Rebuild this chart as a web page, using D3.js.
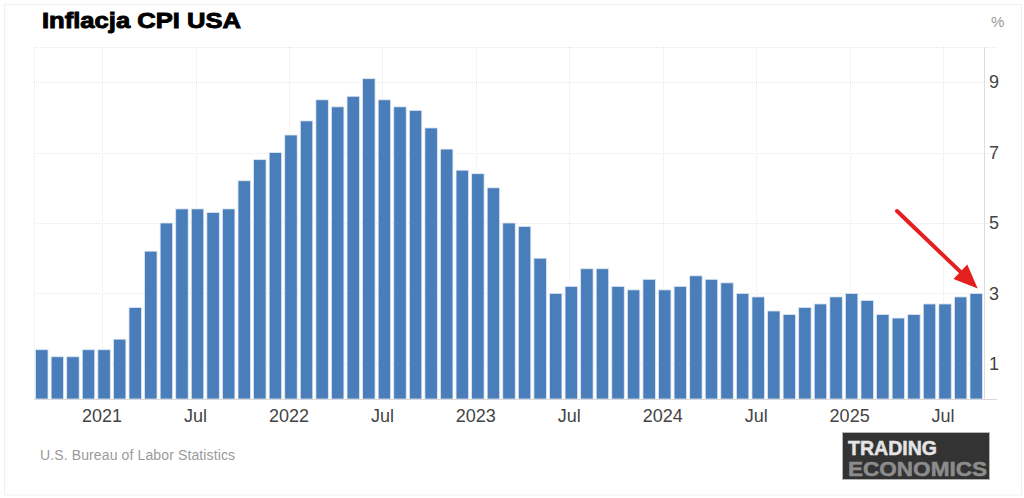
<!DOCTYPE html>
<html><head><meta charset="utf-8">
<script src="https://cdn.jsdelivr.net/npm/d3@7/dist/d3.min.js"></script>
<style>body{margin:0;background:#fff}svg{display:block}</style>
</head><body>
<script>
const months = ["2020-09","2020-10","2020-11","2020-12",
"2021-01","2021-02","2021-03","2021-04","2021-05","2021-06","2021-07","2021-08","2021-09","2021-10","2021-11","2021-12",
"2022-01","2022-02","2022-03","2022-04","2022-05","2022-06","2022-07","2022-08","2022-09","2022-10","2022-11","2022-12",
"2023-01","2023-02","2023-03","2023-04","2023-05","2023-06","2023-07","2023-08","2023-09","2023-10","2023-11","2023-12",
"2024-01","2024-02","2024-03","2024-04","2024-05","2024-06","2024-07","2024-08","2024-09","2024-10","2024-11","2024-12",
"2025-01","2025-02","2025-03","2025-04","2025-05","2025-06","2025-07","2025-08","2025-09"];
const cpi = [1.4,1.2,1.2,1.4,
1.4,1.7,2.6,4.2,5.0,5.4,5.4,5.3,5.4,6.2,6.8,7.0,
7.5,7.9,8.5,8.3,8.6,9.1,8.5,8.3,8.2,7.7,7.1,6.5,
6.4,6.0,5.0,4.9,4.0,3.0,3.2,3.7,3.7,3.2,3.1,3.4,
3.1,3.2,3.5,3.4,3.3,3.0,2.9,2.5,2.4,2.6,2.7,2.9,
3.0,2.8,2.4,2.3,2.4,2.7,2.7,2.9,3.0];
const tickMonths = ["2021-01","2021-07","2022-01","2022-07","2023-01","2023-07","2024-01","2024-07","2025-01","2025-07"];
const tickLabels = ["2021","Jul","2022","Jul","2023","Jul","2024","Jul","2025","Jul"];
const yTicks = [1,3,5,7,9];
const title = "Inflacja CPI USA";
const source = "U.S. Bureau of Labor Statistics";

const W=1024,H=498;
const L=34,R=984,T=47,B=399;
const svg=d3.select("body").append("svg").attr("width",W).attr("height",H);
svg.append("rect").attr("x",0).attr("y",0).attr("width",W).attr("height",H).attr("fill","#fff");
svg.append("rect").attr("x",4.5).attr("y",4.5).attr("width",1017).attr("height",490.5)
  .attr("fill","none").attr("stroke","#efefef");

const x=d3.scaleBand().domain(months).range([L,R]).paddingInner(0.2).paddingOuter(0.1);
const y=d3.scaleLinear().domain([0,10]).range([B,T]);
const font="'Liberation Sans', Arial, sans-serif";

// grid
const g=svg.append("g");
g.selectAll(".hg").data(yTicks.concat([10])).join("line")
  .attr("x1",L).attr("x2",997).attr("y1",d=>Math.round(y(d))+0.5).attr("y2",d=>Math.round(y(d))+0.5)
  .attr("stroke","#e8e8e8").attr("stroke-dasharray","1,1");
g.selectAll(".vg").data(tickMonths).join("line")
  .attr("x1",d=>Math.round(x(d)+x.bandwidth()/2)-1.5).attr("x2",d=>Math.round(x(d)+x.bandwidth()/2)-1.5)
  .attr("y1",T).attr("y2",B).attr("stroke","#e8e8e8").attr("stroke-dasharray","1,1");
g.append("line").attr("x1",L+0.5).attr("x2",L+0.5).attr("y1",T).attr("y2",B)
  .attr("stroke","#e8e8e8").attr("stroke-dasharray","1,1");
// right axis line
g.append("line").attr("x1",R+0.5).attr("x2",R+0.5).attr("y1",T).attr("y2",B).attr("stroke","#dcdcdc");

// bars
svg.append("g").selectAll("rect").data(months).join("rect")
  .attr("x",d=>x(d)).attr("width",x.bandwidth())
  .attr("y",(d,i)=>y(cpi[i])).attr("height",(d,i)=>y(0)-y(cpi[i]))
  .attr("fill","#4a7ebb").attr("stroke","#dfe8f3").attr("stroke-width",0.8);

// baseline
svg.append("line").attr("x1",L).attr("x2",997).attr("y1",B+0.5).attr("y2",B+0.5).attr("stroke","#d8d8d8");

// x axis labels
const xa=d3.axisBottom(x).tickValues(tickMonths).tickFormat((d,i)=>tickLabels[i]).tickSize(0).tickPadding(10);
const xg=svg.append("g").attr("transform",`translate(-2,${B})`).call(xa);
xg.select(".domain").remove();
xg.selectAll("text").attr("font-family",font).attr("font-size",18).attr("fill","#444");

// y axis labels
const ya=d3.axisRight(y).tickValues(yTicks).tickSize(0).tickPadding(6);
const yg=svg.append("g").attr("transform",`translate(${R-1},0)`).call(ya);
yg.select(".domain").remove();
yg.selectAll("text").attr("font-family",font).attr("font-size",18).attr("fill","#444");
svg.append("text").attr("x",991).attr("y",27).attr("font-family",font).attr("font-size",15).attr("fill","#999").text("%");

// title
svg.append("text").attr("x",42).attr("y",27.5).attr("font-family",font).attr("font-weight","bold")
  .attr("font-size",21.5).attr("textLength",199).attr("lengthAdjust","spacingAndGlyphs")
  .attr("stroke","#000").attr("stroke-width",0.9).attr("fill","#000").text(title);

// source
svg.append("text").attr("x",40).attr("y",460).attr("font-family",font).attr("font-size",14)
  .attr("textLength",195).attr("fill","#9a9a9a").text(source);

// logo
svg.append("rect").attr("x",842.5).attr("y",432.5).attr("width",147).attr("height",47)
  .attr("fill","#333").attr("stroke","#b5b5b5");
svg.append("text").attr("x",848).attr("y",455).attr("font-family",font).attr("font-weight","bold")
  .attr("font-size",20).attr("textLength",89).attr("lengthAdjust","spacingAndGlyphs")
  .attr("stroke","#e4e4e4").attr("stroke-width",0.5).attr("fill","#e4e4e4").text("TRADING");
svg.append("text").attr("x",848).attr("y",476).attr("font-family",font).attr("font-weight","bold")
  .attr("font-size",20).attr("textLength",139).attr("lengthAdjust","spacingAndGlyphs")
  .attr("stroke","#8c8c8c").attr("stroke-width",0.5).attr("fill","#8c8c8c").text("ECONOMICS");

// red arrow pointing at last bar
const last=months[months.length-1];
const tip=[x(last)+x.bandwidth()/2+1.5, y(cpi[cpi.length-1])-5];
const start=[897,211];
const dx=tip[0]-start[0], dy=tip[1]-start[1], len=Math.hypot(dx,dy), ux=dx/len, uy=dy/len;
const headLen=24, headW=10;
const base=[tip[0]-ux*headLen, tip[1]-uy*headLen];
svg.append("line").attr("x1",start[0]).attr("y1",start[1]).attr("x2",base[0]+ux*2).attr("y2",base[1]+uy*2)
  .attr("stroke","#e41f1f").attr("stroke-width",4).attr("stroke-linecap","round");
svg.append("polygon").attr("points",[tip,[base[0]-uy*headW,base[1]+ux*headW],[base[0]+uy*headW,base[1]-ux*headW]].map(p=>p.join(",")).join(" "))
  .attr("fill","#e41f1f");
</script>
</body></html>
